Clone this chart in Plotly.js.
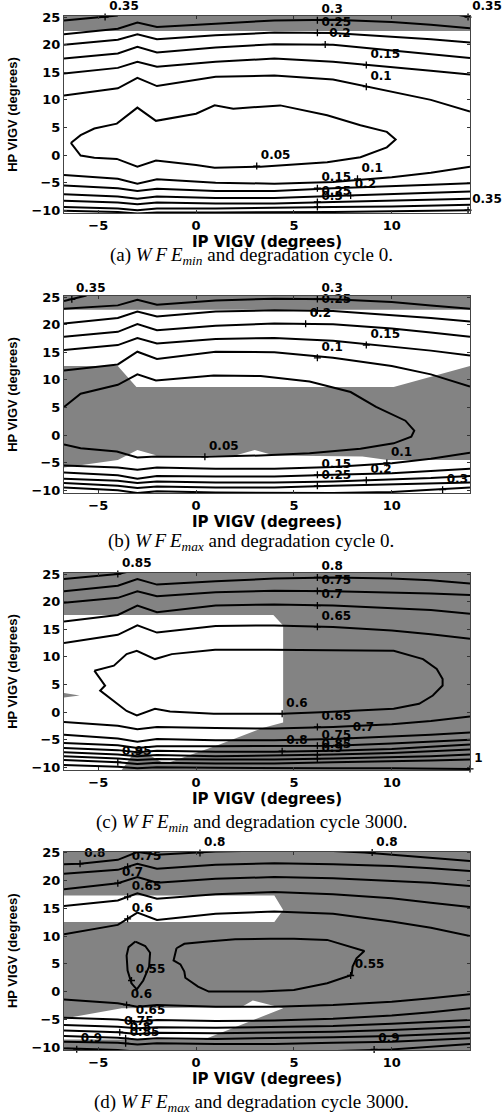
<!DOCTYPE html>
<html><head><meta charset="utf-8">
<script src="https://cdn.plot.ly/plotly-3.0.1.min.js"></script>
<style>html,body{margin:0;padding:0;background:#fff}</style>
</head><body><div id="chart" style="width:502px;height:1119px"></div>
<script>
// IP VIGV columns at which contour crossings were read
const IP_COLS = [-6.75, -4, -3, -2, 1, 4, 7, 10, 12, 14];

// ---------- (a) WFE_min, cycle 0 ----------
const A_LEVELS = ['0.3','0.25','0.2','0.15','0.1','0.1','0.15','0.2','0.25','0.3','0.35'];
const A_HP = [
  [21.9, 22.9, 24.0, 23.2, 23.8, 24.4, 24.5, 24.1, 23.6, 23.0],
  [20.0, 20.9, 21.9, 21.0, 21.7, 22.2, 22.1, 21.5, 21.0, 20.4],
  [17.5, 18.4, 19.6, 18.6, 19.5, 20.1, 20.0, 19.0, 18.3, 17.6],
  [14.8, 15.8, 16.9, 16.0, 16.9, 17.5, 16.9, 16.0, 15.3, 14.6],
  [10.8, 12.1, 14.0, 12.5, 14.2, 14.4, 13.7, 11.5, 10.0, 7.9],
  [-3.6, -4.3, -5.2, -4.4, -5.0, -5.2, -4.9, -4.0, -3.2, -2.1],
  [-5.5, -6.0, -6.5, -6.1, -6.5, -6.5, -6.0, -5.7, -5.4, -5.1],
  [-7.1, -7.5, -7.9, -7.5, -7.8, -7.8, -7.4, -7.1, -6.9, -6.6],
  [-8.3, -8.6, -8.9, -8.6, -8.8, -8.8, -8.5, -8.3, -8.1, -7.9],
  [-9.4, -9.7, -10.0, -9.7, -9.7, -9.5, -9.4, -9.3, -9.2, -9.0],
  [-10.1, -10.3, -10.6, -10.4, -10.4, -10.4, -10.3, -10.2, -10.1, -10.0]
];
const A_TOP35_IP = [-6.75, -4.65, -4.0];
const A_TOP35_HP = [24.4, 25.0, 25.3];
const A_TOPR35_IP = [13.4, 14];
const A_TOPR35_HP = [25.4, 25.0];
const A_LOOP_IP = [-6.4, -5.9, -5.2, -4.05, -3.0, -2.05, 0, 0.95, 1.9, 3.7, 4.3, 6.7, 8.4, 9.75, 10.2, 9.75, 8.4, 6.7, 3.3, 0.95, 0, -2.05, -3.0, -4.05, -5.2, -5.9, -6.4];
const A_LOOP_HP = [2.2, 3.6, 4.8, 5.7, 8.6, 6.2, 7.5, 9.0, 8.4, 8.9, 9.0, 7.2, 5.4, 4.2, 2.8, 1.4, -0.4, -1.3, -2.1, -2.3, -1.8, -1.0, -2.1, -0.7, -0.5, -0.1, 2.2];
const A_LAB_IP = [-4.65, 6.2, 6.2, 6.6, 8.7, 8.7, 13.9, 3.1, 8.25, 6.2, 7.9, 6.2, 6.2, 13.9];
const A_LAB_HP = [25.0, 24.45, 22.15, 20.05, 16.3, 12.4, 25.0, -2.0, -4.3, -6.0, -7.35, -8.5, -9.4, -10.0];
const A_LAB_T = ['0.35','0.3','0.25','0.2','0.15','0.1','0.35','0.05','0.1','0.15','0.2','0.25','0.3','0.35'];
const A_GRAY_IP = [-7, 14.5, 14.5, -7];
const A_GRAY_HP = [22.5, 22.5, 26, 26];

// ---------- (b) WFE_max, cycle 0 ----------
const B_LEVELS = ['0.3','0.25','0.2','0.15','0.1','0.1','0.15','0.2','0.25','0.3'];
const B_HP = [
  [22.9, 23.5, 24.5, 23.6, 24.4, 24.7, 24.6, 24.1, 23.5, 22.9],
  [20.2, 21.2, 22.4, 21.5, 22.4, 22.6, 22.5, 21.8, 21.2, 20.6],
  [17.8, 18.7, 20.1, 19.0, 19.8, 20.2, 20.1, 19.3, 18.6, 17.8],
  [15.4, 16.3, 17.6, 16.6, 17.4, 17.6, 17.1, 16.1, 15.3, 14.4],
  [11.7, 12.8, 15.1, 13.8, 15.1, 15.0, 14.0, 12.5, 11.0, 8.8],
  [-5.5, -5.9, -6.3, -5.9, -6.1, -6.1, -5.8, -5.1, -4.3, -3.2],
  [-6.8, -7.3, -7.9, -7.4, -7.5, -7.5, -7.2, -6.9, -6.5, -6.1],
  [-7.9, -8.3, -8.7, -8.4, -8.6, -8.6, -8.4, -8.1, -7.8, -7.4],
  [-8.7, -9.2, -9.6, -9.3, -9.5, -9.5, -9.2, -9.0, -8.8, -8.6],
  [-9.5, -10.0, -10.5, -10.2, -10.4, -10.5, -10.5, -10.3, -9.9, -9.5]
];
const B_TOP35_IP = [-6.75, -6.35, -5.6];
const B_TOP35_HP = [24.3, 24.6, 25.3];
const B_OPEN05_IP = [-6.75, -5.9, -4.0, -3.0, -2.05, 0.9, 3.3, 5.8, 7.9, 9.2, 10.7, 11.15, 11.0, 10.1, 8.4, 5.8, 3.3, 0.45, -2.05, -3.0, -4.05, -5.9, -6.75];
const B_OPEN05_HP = [5.1, 7.5, 9.1, 11.0, 9.9, 10.8, 10.7, 9.7, 7.8, 5.1, 2.6, 0.8, -0.3, -1.5, -2.5, -3.3, -3.7, -3.95, -3.9, -4.05, -3.0, -2.4, -1.7];
const B_LAB_IP = [-6.35, 6.2, 6.2, 5.6, 8.7, 6.2, 0.45, 9.75, 6.2, 8.7, 6.2, 12.6];
const B_LAB_HP = [24.6, 24.65, 22.55, 20.15, 16.3, 14.0, -3.95, -5.05, -7.2, -8.2, -9.2, -9.9];
const B_LAB_T = ['0.35','0.3','0.25','0.2','0.15','0.1','0.05','0.1','0.15','0.2','0.25','0.3'];
const B_GRAY_IP = [-7, 14.5, 14.5, -7, null, -7, -4.0, -3.05, 10.1, 14.5, 14.5, 9.8, 8.5, 4.0, 3.0, 2.0, -2.0, -3.0, -4.0, -7];
const B_GRAY_HP = [22.7, 22.7, 26, 26, null, 12.5, 12.5, 8.7, 8.7, 13.0, -4.5, -4.5, -3.9, -3.7, -2.7, -3.7, -3.7, -2.7, -4.5, -6.0];

// ---------- (c) WFE_min, cycle 3000 ----------
const C_LEVELS = ['0.8','0.75','0.7','0.65','0.65','0.7','0.75','0.8','0.85','0.9','0.95','1'];
const C_HP = [
  [21.9, 22.9, 24.1, 23.1, 23.7, 24.2, 24.4, 24.2, 23.9, 23.3],
  [19.8, 20.7, 21.9, 21.0, 21.7, 22.0, 21.9, 21.7, 21.5, 21.2],
  [16.4, 17.6, 19.3, 18.1, 19.3, 19.5, 19.3, 18.9, 18.5, 17.8],
  [12.5, 14.0, 15.7, 14.4, 15.6, 15.7, 15.4, 14.8, 14.1, 13.3],
  [-1.8, -2.5, -3.1, -2.7, -2.9, -3.0, -2.7, -2.2, -1.6, -0.8],
  [-4.1, -4.8, -5.4, -4.9, -5.1, -5.1, -4.9, -4.5, -4.1, -3.7],
  [-5.6, -6.0, -6.5, -6.2, -6.2, -6.2, -6.1, -5.7, -5.4, -5.0],
  [-6.5, -6.9, -7.3, -7.0, -7.2, -7.2, -7.0, -6.7, -6.3, -5.9],
  [-7.3, -7.7, -8.0, -7.8, -8.0, -7.9, -7.7, -7.4, -7.1, -6.8],
  [-8.0, -8.4, -8.7, -8.5, -8.6, -8.6, -8.4, -8.2, -8.0, -7.7],
  [-8.7, -9.1, -9.4, -9.2, -9.3, -9.3, -9.1, -9.0, -8.8, -8.6],
  [-9.6, -9.9, -10.2, -10.0, -10.1, -10.2, -10.2, -10.2, -10.3, -10.3]
];
const C_TOP85_IP = [-6.75, -4.0, -3.4];
const C_TOP85_HP = [24.1, 25.0, 25.5];
const C_LOOP_IP = [-5.2, -4.2, -3.55, -3.03, -2.1, -1.24, 0.97, 3.7, 10.1, 11.6, 12.3, 12.6, 12.6, 12.1, 11.4, 10.1, 6.7, 4.4, 0.9, -1.33, -2.1, -3.03, -3.55, -4.14, -4.9, -4.65, -5.2];
const C_LOOP_HP = [7.5, 8.4, 10.5, 11.1, 9.6, 10.5, 11.3, 11.3, 11.1, 9.6, 7.8, 6.0, 4.8, 3.0, 1.5, 0.6, 0.0, -0.3, -0.3, 0.1, 0.6, -0.6, 0.2, 1.8, 3.9, 4.8, 7.5];
const C_LAB_IP = [-4.0, 6.2, 6.2, 6.2, 6.2, 4.4, 6.2, 7.8, 6.2, 4.4, 6.2, 6.2, -4.0, 14.0];
const C_LAB_HP = [25.0, 24.4, 21.95, 19.3, 15.45, -0.3, -2.7, -4.75, -6.1, -7.1, -7.75, -8.45, -9.1, -10.3];
const C_LAB_T = ['0.85','0.8','0.75','0.7','0.65','0.6','0.65','0.7','0.75','0.8','0.85','0.9','0.95','1'];
const C_GRAY_IP = [-7, 14.5, 14.5, -3.9, -3.0, -1.6, 1.1, 3.4, 4.45, 4.45, 3.95, -7, null, -7, -5.95, -7];
const C_GRAY_HP = [26, 26, -11, -11, -6.5, -9.4, -6.0, -2.9, -1.9, 15.7, 17.6, 17.6, null, 3.6, 3.0, 2.5];

// ---------- (d) WFE_max, cycle 3000 ----------
const D_LEVELS = ['0.75','0.7','0.65','0.6','0.6','0.65','0.7','0.75','0.8','0.85','0.9'];
const D_HP = [
  [21.2, 21.9, 23.0, 22.1, 22.8, 23.1, 22.9, 22.6, 22.2, 21.7],
  [18.4, 19.5, 20.6, 19.6, 20.3, 20.6, 20.4, 20.0, 19.6, 19.0],
  [15.4, 16.4, 17.7, 16.7, 17.5, 17.9, 17.5, 16.8, 16.0, 15.2],
  [10.3, 12.0, 14.2, 12.9, 14.0, 14.4, 14.0, 12.6, 11.5, 10.0],
  [-1.4, -2.1, -2.7, -2.4, -2.7, -2.7, -2.4, -1.8, -1.2, -0.45],
  [-4.7, -5.0, -5.4, -5.1, -5.3, -5.2, -4.9, -4.3, -3.7, -3.0],
  [-6.0, -6.3, -6.6, -6.4, -6.5, -6.4, -6.2, -5.8, -5.5, -5.1],
  [-7.0, -7.3, -7.6, -7.4, -7.5, -7.4, -7.2, -6.9, -6.6, -6.3],
  [-8.0, -8.3, -8.6, -8.4, -8.5, -8.4, -8.2, -8.0, -7.7, -7.4],
  [-9.0, -9.2, -9.5, -9.3, -9.4, -9.4, -9.2, -9.0, -8.7, -8.4],
  [-10.2, -10.5, -10.8, -10.7, -10.8, -10.8, -10.7, -10.4, -9.9, -9.4]
];
const D_TOP80_IP = [-6.75, -5.93, -4.0, -3.0, -2.0, 0.2, 1.0, 4.0, 7.0, 8.6, 10, 12, 14];
const D_TOP80_HP = [22.9, 23.0, 23.7, 25.1, 24.6, 24.95, 25.2, 25.4, 25.3, 25.0, 24.6, 24.1, 23.5];
const D_LOOPL_IP = [-3.1, -2.6, -2.35, -2.4, -2.7, -3.03, -3.3, -3.5, -3.55, -3.45, -3.1];
const D_LOOPL_HP = [9.0, 8.2, 7.0, 4.5, 2.0, 0.4, 1.5, 3.8, 6.5, 8.0, 9.0];
const D_LOOPR_IP = [-1.0, -0.6, 0.6, 2.0, 3.8, 5.0, 6.7, 8.4, 8.6, 8.2, 8.0, 7.95, 6.7, 5.0, 3.3, 0.65, 0.1, -0.55, -0.6, -0.8, -1.15, -1.0];
const D_LOOPR_HP = [7.8, 8.6, 9.0, 9.4, 9.5, 9.5, 9.3, 7.6, 7.3, 6.0, 4.5, 3.0, 1.5, 0.3, 0.0, 0.0, 0.9, 2.5, 3.6, 4.9, 5.6, 7.8];
const D_LAB_IP = [-5.93, -3.5, -4.0, -3.5, -3.5, 0.2, 9.0, -3.3, 7.9, -3.55, -3.3, -3.9, -3.6, -3.6, -6.1, 9.1];
const D_LAB_HP = [23.0, 22.45, 19.5, 17.05, 13.1, 24.95, 25.0, 2.0, 2.9, -2.4, -5.25, -7.3, -8.4, -9.3, -10.35, -10.4];
const D_LAB_T = ['0.8','0.75','0.7','0.65','0.6','0.8','0.8','0.55','0.55','0.6','0.65','0.75','0.8','0.85','0.9','0.9'];
const D_GRAY_IP = [-7, 14.5, 14.5, -7, -7, 0.4, 4.45, 3.9, 2.9, 2.3, -3.8, -7, -7, 4.0, 4.45, 4.0, -7];
const D_GRAY_HP = [26, 26, -11, -11, -8.6, -8.6, -3.0, -2.5, -1.6, -2.8, -3.0, -5.0, 12.5, 12.5, 14.7, 17.3, 17.3];

const CAPTIONS = [
  '(a) <i>W\u2009F\u2009E</i><sub><i>min</i></sub> and degradation cycle 0.',
  '(b) <i>W\u2009F\u2009E</i><sub><i>max</i></sub> and degradation cycle 0.',
  '(c) <i>W\u2009F\u2009E</i><sub><i>min</i></sub> and degradation cycle 3000.',
  '(d) <i>W\u2009F\u2009E</i><sub><i>max</i></sub> and degradation cycle 3000.'
];
const X_TICKS = [-5, 0, 5, 10];
const Y_TICKS = [-10, -5, 0, 5, 10, 15, 20, 25];

// ---------- build ----------
const GRAY = '#838383';
const traces = [];
function ax(i) { return i === 1 ? '' : String(i); }
function addPanel(i, grayX, grayY, rows, levels, extras, labX, labY, labT) {
  const xa = 'x' + ax(i), ya = 'y' + ax(i);
  traces.push({type:'scatter', mode:'lines', x:grayX, y:grayY, fill:'toself', fillcolor:GRAY,
    line:{width:0, color:GRAY}, xaxis:xa, yaxis:ya, hoverinfo:'skip'});
  rows.forEach((r, k) => traces.push({type:'scatter', mode:'lines', x:IP_COLS, y:r, name:levels[k],
    line:{color:'black', width:2}, xaxis:xa, yaxis:ya, hoverinfo:'skip'}));
  extras.forEach(e => traces.push({type:'scatter', mode:'lines', x:e[0], y:e[1],
    line:{color:'black', width:2}, xaxis:xa, yaxis:ya, hoverinfo:'skip'}));
  traces.push({type:'scatter', mode:'markers+text', x:labX, y:labY, text:labT,
    textposition:'top right', cliponaxis:false,
    textfont:{family:'DejaVu Sans', size:12, color:'black', weight:'bold'},
    marker:{symbol:'cross-thin', size:5, color:'black', line:{width:1.3, color:'black'}},
    xaxis:xa, yaxis:ya, hoverinfo:'skip'});
}
addPanel(1, A_GRAY_IP, A_GRAY_HP, A_HP, A_LEVELS,
  [[A_TOP35_IP, A_TOP35_HP], [A_TOPR35_IP, A_TOPR35_HP], [A_LOOP_IP, A_LOOP_HP]],
  A_LAB_IP, A_LAB_HP, A_LAB_T);
addPanel(2, B_GRAY_IP, B_GRAY_HP, B_HP, B_LEVELS,
  [[B_TOP35_IP, B_TOP35_HP], [B_OPEN05_IP, B_OPEN05_HP]],
  B_LAB_IP, B_LAB_HP, B_LAB_T);
addPanel(3, C_GRAY_IP, C_GRAY_HP, C_HP, C_LEVELS,
  [[C_TOP85_IP, C_TOP85_HP], [C_LOOP_IP, C_LOOP_HP]],
  C_LAB_IP, C_LAB_HP, C_LAB_T);
addPanel(4, D_GRAY_IP, D_GRAY_HP, D_HP, D_LEVELS,
  [[D_TOP80_IP, D_TOP80_HP], [D_LOOPL_IP, D_LOOPL_HP], [D_LOOPR_IP, D_LOOPR_HP]],
  D_LAB_IP, D_LAB_HP, D_LAB_T);

const W = 502, H = 1119, ML = 64, MR = 32, MT = 16, MB = 69;
const PH = H - MT - MB;
const panelPx = [[16, 213], [296, 493], [573, 770], [851.5, 1050]];
const captionPx = [256, 541.7, 823.3, 1103.3];
function py(p) { return (H - MB - p) / PH; }

const layout = {
  width: W, height: H, margin:{l:ML, r:MR, t:MT, b:MB},
  paper_bgcolor:'white', plot_bgcolor:'white', showlegend:false,
  font:{family:'DejaVu Sans', color:'black'},
  annotations: []
};
for (let i = 1; i <= 4; i++) {
  const [top, bot] = panelPx[i-1];
  layout['xaxis' + ax(i)] = {
    domain:[0,1], anchor:'y' + ax(i), range:[-6.75, 14], tickvals:X_TICKS,
    ticks:'inside', ticklen:3, tickcolor:'#333', showline:true, mirror:'ticks',
    linecolor:'#444', linewidth:1, showgrid:false, zeroline:false,
    tickfont:{family:'DejaVu Sans', size:13, weight:'bold', color:'black'},
    title:{text:'IP VIGV (degrees)', standoff:3,
      font:{family:'DejaVu Sans', size:15, weight:'bold', color:'black'}}
  };
  layout['yaxis' + ax(i)] = {
    domain:[py(bot), py(top)], anchor:'x' + ax(i), range:[-10.5, 25.2], tickvals:Y_TICKS,
    ticks:'inside', ticklen:3, tickcolor:'#333', showline:true, mirror:'ticks',
    linecolor:'#444', linewidth:1, showgrid:false, zeroline:false,
    tickfont:{family:'DejaVu Sans', size:13, weight:'bold', color:'black'},
    title:{text:'HP VIGV (degrees)', standoff:10,
      font:{family:'Liberation Sans', size:13, weight:'bold', color:'black'}}
  };
  layout.annotations.push({text:CAPTIONS[i-1], xref:'paper', yref:'paper',
    x:(251 - ML) / (W - ML - MR), y:py(captionPx[i-1]), xanchor:'center', yanchor:'middle',
    showarrow:false, font:{family:'Liberation Serif', size:19, color:'black'}});
}

Plotly.newPlot('chart', traces, layout, {staticPlot:true, displayModeBar:false});
</script></body></html>
